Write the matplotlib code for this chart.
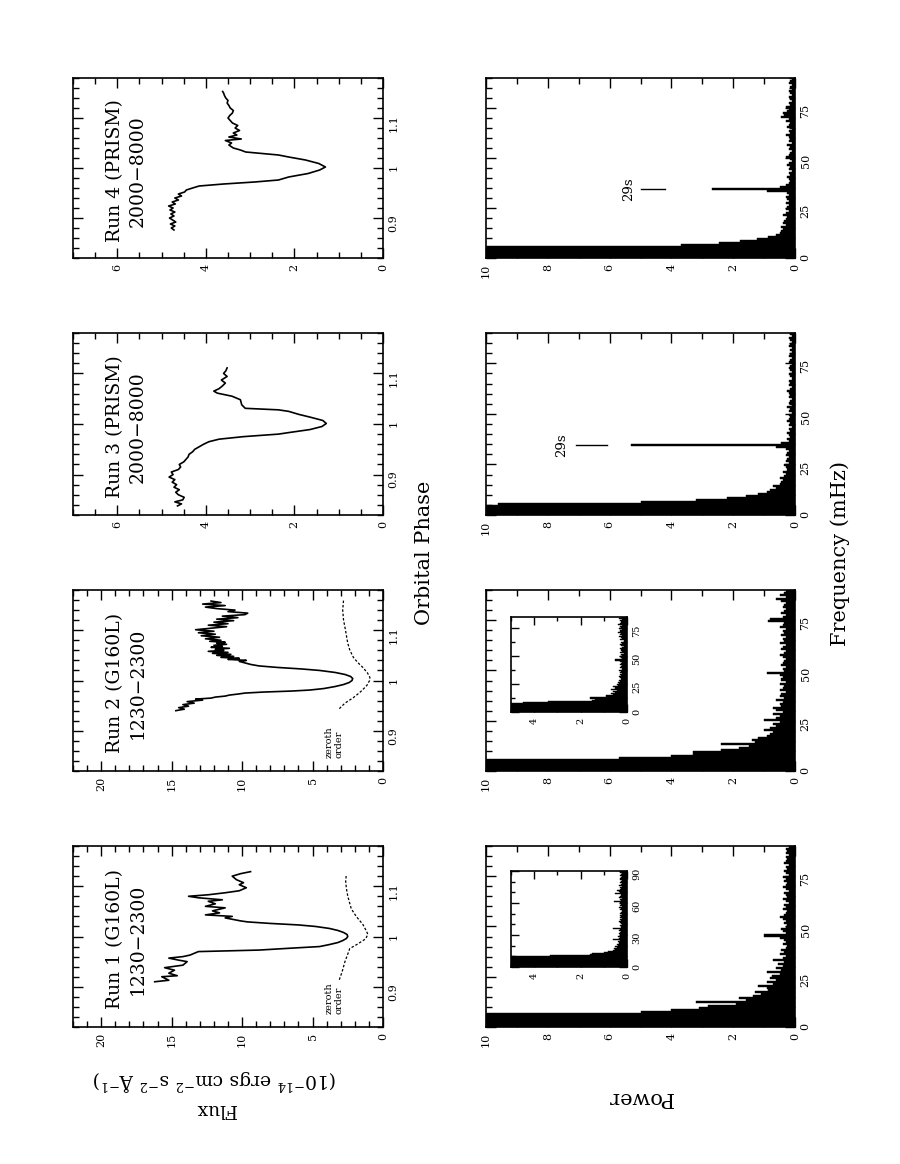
import numpy as np
import matplotlib
matplotlib.use('Agg')
import matplotlib.pyplot as plt
from matplotlib.ticker import MultipleLocator, FuncFormatter

plt.rcParams['font.family'] = ['DejaVu Serif']
plt.rcParams['mathtext.fontset'] = 'dejavuserif'

# ---------------- light curves (orbital phase, flux) ----------------
run1_phase = [0.910, 0.913, 0.920, 0.922, 0.927, 0.933, 0.938, 0.943, 0.950, 0.953,
              0.957, 0.960, 0.963, 0.970, 0.973, 0.977, 0.980, 0.984, 0.988, 0.992,
              0.996, 1.000, 1.004, 1.008, 1.012, 1.016, 1.020, 1.023, 1.026, 1.029,
              1.031, 1.037, 1.040, 1.043, 1.047, 1.051, 1.057, 1.060, 1.065, 1.070,
              1.073, 1.077, 1.080, 1.083, 1.087, 1.091, 1.097, 1.103, 1.107, 1.113,
              1.120, 1.125, 1.129]
run1_flux = [16.2, 15.2, 15.7, 14.6, 15.2, 14.8, 15.5, 14.2, 13.9, 14.5,
             15.2, 14.2, 13.7, 13.1, 8.8, 6.4, 4.5, 3.8, 3.2, 2.85,
             2.6, 2.5, 2.55, 2.8, 3.2, 3.8, 4.8, 6.0, 8.0, 9.6,
             10.1, 11.2, 10.7, 12.6, 11.6, 12.1, 11.2, 12.6, 11.9, 12.4,
             11.4, 13.1, 13.8, 12.4, 11.2, 10.2, 9.7, 10.2, 9.9, 10.4,
             10.7, 10.1, 9.4]
run1_zeroth_phase = [0.914, 0.930, 0.950, 0.965, 0.976, 0.985, 0.995, 1.004, 1.012,
                     1.024, 1.040, 1.055, 1.066, 1.080, 1.096, 1.110, 1.124]
run1_zeroth_flux = [3.1, 2.9, 2.7, 2.5, 2.36, 1.8, 1.25, 1.07, 1.2,
                    1.43, 1.9, 2.25, 2.36, 2.5, 2.6, 2.65, 2.6]

run2_phase = [0.940, 0.943, 0.946, 0.949, 0.952, 0.955, 0.958, 0.961, 0.963, 0.965,
              0.967, 0.969, 0.971, 0.973, 0.975, 0.977, 0.979, 0.981, 0.984, 0.988,
              0.992, 0.996, 1.000, 1.004, 1.008, 1.012, 1.016, 1.020, 1.023, 1.026,
              1.029, 1.032, 1.035, 1.038, 1.040, 1.042, 1.044, 1.046, 1.048, 1.050,
              1.052, 1.054, 1.056, 1.058, 1.060, 1.062, 1.064, 1.066, 1.068, 1.070,
              1.072, 1.074, 1.076, 1.078, 1.080, 1.083, 1.086, 1.089, 1.092, 1.095,
              1.098, 1.101, 1.104, 1.107, 1.110, 1.113, 1.116, 1.119, 1.122, 1.125,
              1.128, 1.131, 1.134, 1.137, 1.140, 1.143, 1.146, 1.149, 1.152, 1.155,
              1.158]
run2_flux = [14.7, 14.1, 14.5, 13.8, 14.2, 13.4, 13.9, 12.8, 13.3, 12.2,
             11.9, 11.2, 10.9, 10.3, 9.8, 8.5, 6.5, 5.2, 4.2, 3.4,
             2.8, 2.4, 2.2, 2.15, 2.3, 2.7, 3.4, 4.5, 5.8, 7.5,
             8.8, 9.4, 9.8, 10.2, 9.7, 11.0, 10.2, 11.5, 10.6, 11.8,
             10.8, 12.1, 11.0, 12.4, 11.3, 11.9, 10.9, 12.2, 11.4, 12.0,
             11.1, 11.8, 11.2, 12.3, 11.5, 12.6, 11.6, 12.9, 11.9, 13.1,
             12.0, 13.3, 12.2, 11.1, 12.4, 11.0, 12.0, 10.6, 11.8, 10.3,
             11.4, 9.8, 9.6, 11.0, 10.5, 11.8, 12.6, 11.2, 12.8, 11.5,
             12.2]
run2_zeroth_phase = [0.944, 0.955, 0.966, 0.975, 0.980, 0.990, 1.000, 1.006, 1.015,
                     1.026, 1.036, 1.046, 1.060, 1.074, 1.090, 1.106, 1.120, 1.140, 1.160]
run2_zeroth_flux = [3.1, 2.7, 2.1, 1.7, 1.5, 1.15, 0.95, 0.93, 1.1,
                    1.43, 1.8, 2.1, 2.35, 2.5, 2.6, 2.7, 2.8, 2.86, 2.8]

run3_phase = [0.838, 0.842, 0.846, 0.850, 0.855, 0.860, 0.865, 0.870, 0.875, 0.880,
              0.885, 0.890, 0.895, 0.900, 0.905, 0.910, 0.915, 0.920, 0.925, 0.930,
              0.935, 0.940, 0.945, 0.950, 0.955, 0.960, 0.965, 0.970, 0.975, 0.980,
              0.983, 0.989, 0.995, 1.001, 1.007, 1.013, 1.019, 1.025, 1.028, 1.031,
              1.038, 1.048, 1.055, 1.061, 1.065, 1.070, 1.075, 1.081, 1.087, 1.094,
              1.100, 1.105, 1.111]
run3_flux = [4.64, 4.55, 4.70, 4.52, 4.49, 4.62, 4.68, 4.60, 4.72, 4.66,
             4.76, 4.70, 4.83, 4.74, 4.78, 4.62, 4.57, 4.60, 4.50, 4.45,
             4.40, 4.38, 4.30, 4.25, 4.15, 4.05, 3.93, 3.70, 3.15, 2.36,
             2.13, 1.65, 1.38, 1.28, 1.36, 1.62, 1.90, 2.13, 2.36, 3.11,
             3.19, 3.22, 3.41, 3.74, 3.82, 3.70, 3.63, 3.56, 3.65, 3.52,
             3.60, 3.55, 3.52]

run4_phase = [0.876, 0.880, 0.884, 0.888, 0.892, 0.896, 0.900, 0.904, 0.908, 0.912,
              0.916, 0.920, 0.924, 0.928, 0.932, 0.936, 0.940, 0.944, 0.948, 0.952,
              0.956, 0.960, 0.964, 0.968, 0.972, 0.976, 0.982, 0.989, 0.996, 1.002,
              1.009, 1.016, 1.022, 1.026, 1.032, 1.036, 1.040, 1.046, 1.050, 1.055,
              1.058, 1.062, 1.066, 1.070, 1.075, 1.080, 1.085, 1.090, 1.095, 1.100,
              1.105, 1.110, 1.115, 1.120, 1.125, 1.130, 1.135, 1.140, 1.145, 1.150,
              1.153]
run4_flux = [4.72, 4.78, 4.70, 4.80, 4.68, 4.75, 4.82, 4.72, 4.79, 4.70,
             4.81, 4.74, 4.84, 4.69, 4.76, 4.62, 4.70, 4.55, 4.62, 4.48,
             4.44, 4.30, 4.15, 3.60, 2.90, 2.36, 2.13, 1.69, 1.43, 1.30,
             1.45, 1.75, 2.13, 2.36, 3.10, 3.22, 3.38, 3.48, 3.42, 3.56,
             3.20, 3.48, 3.30, 3.38, 3.24, 3.34, 3.28, 3.40, 3.45, 3.50,
             3.46, 3.40, 3.38, 3.45, 3.48, 3.52, 3.50, 3.55, 3.58, 3.60,
             3.62]

run_titles = ["Run 1 (G160L)\n1230\u22122300", "Run 2 (G160L)\n1230\u22122300",
              "Run 3 (PRISM)\n2000\u22128000", "Run 4 (PRISM)\n2000\u22128000"]

# ---------------- power spectra (1 mHz bins starting at 0 mHz) ----------------
BIN = 1.0
spec1_power = [12, 12, 12, 12, 12, 12, 11, 5.0, 4.0, 3.1,
               2.8, 1.9, 3.2, 1.6, 1.8, 1.35, 1.1, 1.3, 0.86, 0.9,
               1.2, 0.7, 0.9, 0.6, 0.8, 0.76, 0.5, 0.91, 0.45, 0.6,
               0.4, 0.55, 0.35, 0.7, 0.4, 0.3, 0.5, 0.35, 0.45, 0.3,
               0.25, 0.4, 0.3, 0.35, 0.5, 1.0, 0.3, 0.4, 0.45, 0.3,
               0.25, 0.35, 0.3, 0.4, 0.5, 0.35, 0.3, 0.25, 0.4, 0.3,
               0.35, 0.2, 0.3, 0.4, 0.25, 0.3, 0.35, 0.2, 0.3, 0.4,
               0.3, 0.25, 0.35, 0.3, 0.4, 0.2, 0.3, 0.35, 0.25, 0.3,
               0.2, 0.35, 0.3, 0.25, 0.3, 0.2, 0.3, 0.25, 0.3, 0.2]
spec2_power = [12, 12, 12, 12, 12, 12, 5.7, 4.0, 3.3, 3.3,
               2.4, 1.8, 1.5, 2.4, 1.3, 1.4, 1.2, 0.9, 0.8, 0.7,
               1.0, 0.8, 0.6, 0.7, 0.5, 1.0, 0.6, 0.5, 0.7, 0.4,
               0.6, 0.7, 0.45, 0.5, 0.4, 0.6, 0.35, 0.5, 0.45, 0.3,
               0.5, 0.4, 0.35, 0.5, 0.3, 0.45, 0.4, 0.5, 0.91, 0.35,
               0.4, 0.3, 0.45, 0.4, 0.35, 0.3, 0.4, 0.5, 0.35, 0.3,
               0.45, 0.4, 0.3, 0.5, 0.35, 0.4, 0.3, 0.45, 0.35, 0.4,
               0.3, 0.5, 0.4, 0.35, 0.86, 0.8, 0.4, 0.3, 0.45, 0.35,
               0.3, 0.4, 0.35, 0.3, 0.45, 0.6, 0.3, 0.5, 0.35, 0.3]
spec3_power = [12, 12, 12, 12, 12, 9.6, 5.0, 3.2, 2.2, 1.6,
               1.2, 0.9, 0.8, 0.6, 0.7, 0.5, 0.45, 0.4, 0.5, 0.35,
               0.3, 0.4, 0.25, 0.3, 0.35, 0.2, 0.3, 0.25, 0.2, 0.3,
               0.25, 0.2, 0.3, 0.6, 5.3, 0.45, 0.2, 0.25, 0.15, 0.2,
               0.25, 0.15, 0.2, 0.1, 0.2, 0.15, 0.25, 0.2, 0.15, 0.2,
               0.1, 0.2, 0.15, 0.25, 0.1, 0.2, 0.15, 0.1, 0.2, 0.15,
               0.2, 0.25, 0.15, 0.1, 0.2, 0.15, 0.2, 0.1, 0.15, 0.2,
               0.1, 0.15, 0.2, 0.15, 0.1, 0.2, 0.15, 0.1, 0.2, 0.15,
               0.1, 0.15, 0.1, 0.2, 0.15, 0.1, 0.15, 0.2, 0.1, 0.15]
spec4_power = [12, 12, 12, 12, 12, 11, 3.7, 2.45, 1.77, 1.23,
               0.86, 0.6, 0.5, 0.45, 0.38, 0.45, 0.3, 0.4, 0.35, 0.3,
               0.25, 0.4, 0.3, 0.2, 0.3, 0.25, 0.2, 0.3, 0.2, 0.25,
               0.3, 0.2, 0.25, 0.9, 2.7, 0.5, 0.3, 0.2, 0.15, 0.2,
               0.25, 0.15, 0.2, 0.1, 0.2, 0.15, 0.25, 0.2, 0.1, 0.15,
               0.3, 0.2, 0.15, 0.1, 0.2, 0.15, 0.25, 0.1, 0.2, 0.15,
               0.2, 0.3, 0.15, 0.2, 0.1, 0.25, 0.2, 0.15, 0.3, 0.2,
               0.45, 0.35, 0.4, 0.25, 0.2, 0.3, 0.15, 0.2, 0.1, 0.15,
               0.2, 0.1, 0.15, 0.2, 0.1, 0.15, 0.1, 0.2, 0.15, 0.1]
inset1_power = [6, 6, 6, 6, 6, 6, 6, 6, 6, 6,
                3.3, 1.6, 1.5, 1.0, 0.8, 0.6, 0.5, 0.55, 0.45, 0.5,
                0.4, 0.45, 0.35, 0.4, 0.3, 0.6, 0.35, 0.3, 0.4, 0.25,
                0.3, 0.35, 0.3, 0.25, 0.35, 0.3, 0.6, 0.25, 0.3, 0.2,
                0.25, 0.3, 0.35, 0.25, 0.3, 0.2, 0.3, 0.25, 0.3, 0.2,
                0.3, 0.25, 0.2, 0.3, 0.25, 0.35, 0.2, 0.3, 0.25, 0.2,
                0.3, 0.55, 0.25, 0.3, 0.2, 0.35, 0.3, 0.25, 0.5, 0.3,
                0.35, 0.45, 0.3, 0.25, 0.3, 0.2, 0.35, 0.25, 0.2, 0.3,
                0.25, 0.2, 0.3, 0.25, 0.2, 0.3, 0.25, 0.2, 0.3, 0.25]
inset2_power = [6, 6, 6, 6, 6, 6, 6, 6, 4.5, 3.4,
                1.5, 1.4, 1.6, 0.9, 0.9, 0.6, 0.7, 0.5, 0.6, 0.45,
                0.7, 0.5, 0.6, 0.4, 0.45, 0.35, 0.4, 0.3, 0.35, 0.25,
                0.3, 0.35, 0.25, 0.3, 0.2, 0.3, 0.25, 0.35, 0.2, 0.3,
                0.25, 0.2, 0.3, 0.25, 0.2, 0.3, 0.5, 0.2, 0.25, 0.3,
                0.2, 0.25, 0.15, 0.3, 0.2, 0.25, 0.3, 0.2, 0.15, 0.25,
                0.3, 0.2, 0.25, 0.15, 0.3, 0.2, 0.25, 0.35, 0.2, 0.3,
                0.25, 0.4, 0.3, 0.2, 0.35, 0.25, 0.3, 0.2, 0.4, 0.3,
                0.25, 0.3, 0.2, 0.35, 0.25]

# ---------------- layout ----------------
W, H = 900, 1164
fig = plt.figure(figsize=(9, 11.64), dpi=100)
fig.patch.set_facecolor('white')


def rect(x0, y0, x1, y1):
    return [x0 / W, 1 - y1 / H, (x1 - x0) / W, (y1 - y0) / H]


fmt = FuncFormatter(lambda v, p: f'{round(v, 3):g}')


def style(ax, xmaj, xmin, ymaj, ymin, lsize=8, major_len=7, minor_len=4):
    ax.xaxis.set_major_locator(MultipleLocator(xmaj))
    ax.xaxis.set_minor_locator(MultipleLocator(xmin))
    ax.yaxis.set_major_locator(MultipleLocator(ymaj))
    ax.yaxis.set_minor_locator(MultipleLocator(ymin))
    ax.xaxis.set_major_formatter(fmt)
    ax.yaxis.set_major_formatter(fmt)
    ax.tick_params(which='both', direction='in', top=True, bottom=True,
                   left=True, right=True, labelleft=False, labelright=True,
                   labelbottom=True, labeltop=False, width=1.0,
                   labelsize=lsize, colors='k', pad=4)
    ax.tick_params(which='major', length=major_len)
    ax.tick_params(which='minor', length=minor_len)
    ax.tick_params(axis='x', labelrotation=90)
    ax.tick_params(axis='y', labelrotation=90)
    for s in ax.spines.values():
        s.set_linewidth(1.2)


rows = [(846, 1027), (590, 771), (333, 515), (78, 258)]   # run1..run4
phases = [run1_phase, run2_phase, run3_phase, run4_phase]
fluxes = [run1_flux, run2_flux, run3_flux, run4_flux]
fmaxes = [22, 22, 7, 7]
zeroth = {0: (run1_zeroth_phase, run1_zeroth_flux), 1: (run2_zeroth_phase, run2_zeroth_flux)}
spectra = [spec1_power, spec2_power, spec3_power, spec4_power]

for i in range(4):
    y0, y1 = rows[i]
    ax = fig.add_axes(rect(73, y0, 383, y1))
    ax.plot(fluxes[i], phases[i], color='k', lw=1.2)
    ax.set_xlim(fmaxes[i], 0)
    ax.set_ylim(0.82, 1.18)
    if fmaxes[i] > 10:
        style(ax, 5, 1, 0.1, 0.02)
        ax.text(18.2, 0.995, run_titles[i], rotation=90, ha='center', va='center',
                multialignment='center', fontsize=13.5, linespacing=1.35)
    else:
        style(ax, 2, 0.5, 0.1, 0.02)
        ax.text(5.8, 0.994, run_titles[i], rotation=90, ha='center', va='center',
                multialignment='center', fontsize=13.5, linespacing=1.35)
    if i in zeroth:
        zp, zf = zeroth[i]
        ax.plot(zf, zp, color='k', lw=0.9, linestyle=(0, (2.0, 1.5)))
        ax.text(3.45, 0.846, "zeroth\norder", rotation=90, ha='center', va='bottom',
                multialignment='left', fontsize=7, linespacing=1.1)

    # power spectrum
    sp = fig.add_axes(rect(486, y0, 795, y1))
    pw = spectra[i]
    fr = np.arange(len(pw)) * BIN + BIN / 2
    sp.barh(fr, pw, height=BIN, color='k', edgecolor='k', linewidth=0.3)
    sp.set_xlim(10, 0)
    sp.set_ylim(0, 90)
    style(sp, 2, 1, 25, 5)
    if i == 3:
        sp.plot([4.2, 5.0], [34.5, 34.5], color='k', lw=1.0)
        sp.text(5.4, 34.5, "29s", rotation=90, ha='center', va='center', fontsize=9.5)
    if i == 2:
        sp.plot([6.1, 7.1], [34.5, 34.5], color='k', lw=1.0)
        sp.text(7.55, 34.5, "29s", rotation=90, ha='center', va='center', fontsize=9.5)

# insets
ins1 = fig.add_axes(rect(511, 871, 627, 967))
fr = np.arange(len(inset1_power)) * BIN + BIN / 2
ins1.barh(fr, inset1_power, height=BIN, color='k', edgecolor='k', linewidth=0.3)
ins1.set_xlim(5, 0)
ins1.set_ylim(0, 90)
style(ins1, 2, 1, 30, 10, lsize=7, major_len=6, minor_len=3)

ins2 = fig.add_axes(rect(511, 617, 627, 712))
fr = np.arange(len(inset2_power)) * BIN + BIN / 2
ins2.barh(fr, inset2_power, height=BIN, color='k', edgecolor='k', linewidth=0.3)
ins2.set_xlim(5, 0)
ins2.set_ylim(0, 85)
style(ins2, 2, 1, 25, 12.5, lsize=7, major_len=6, minor_len=3)

# axis titles
fig.text(425 / W, 1 - 553 / H, "Orbital Phase", rotation=90, ha='center', va='center',
         fontsize=15)
fig.text(840 / W, 1 - 553 / H, "Frequency (mHz)", rotation=90, ha='center', va='center',
         fontsize=15)
fig.text(640 / W, 1 - 1097 / H, "Power", rotation=180, ha='center', va='center',
         fontsize=15)
fig.text(215 / W, 1 - 1093 / H,
         "Flux\n(10$^{-14}$ ergs cm$^{-2}$ s$^{-2}$ \u00c5$^{-1}$)",
         rotation=180, ha='center', va='center', multialignment='center',
         fontsize=13.5, linespacing=1.4)

fig.savefig("out.png", dpi=100, facecolor='white')
